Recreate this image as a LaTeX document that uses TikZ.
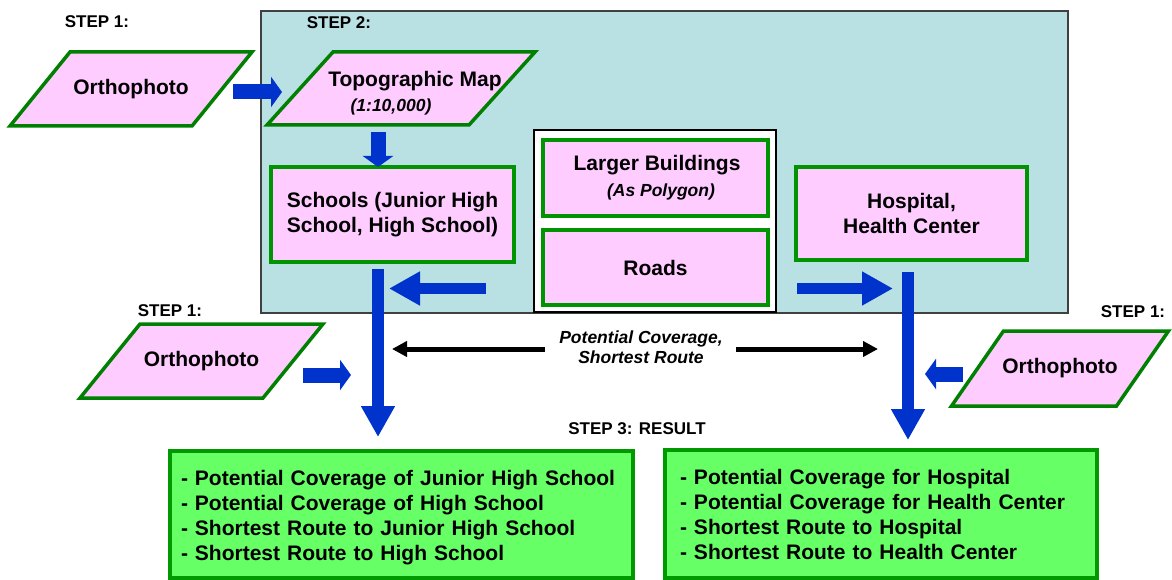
\documentclass[tikz,border=0pt]{standalone}
\usepackage{fontspec}
\setmainfont{Liberation Sans}
\usetikzlibrary{arrows.meta}

\definecolor{panel}{HTML}{B9E0E3}
\definecolor{pinkfill}{HTML}{FFCCFF}
\definecolor{paraline}{HTML}{008000}
\definecolor{rectline}{HTML}{009400}
\definecolor{resfill}{HTML}{66FF66}
\definecolor{resline}{HTML}{009900}
\definecolor{flowblue}{HTML}{0033CC}

\pgfdeclarelayer{back}
\pgfdeclarelayer{mid}
\pgfsetlayers{back,mid,main}

% parallelogram around a named node: #1 node, #2 horizontal slant of the sides
\newcommand{\slantframe}[2]{%
  \begin{pgfonlayer}{mid}
    \draw[parashape] ([xshift=#2/2]#1.north west) -- ([xshift=#2/2]#1.north east)
      -- ([xshift=-#2/2]#1.south east) -- ([xshift=-#2/2]#1.south west) -- cycle;
  \end{pgfonlayer}}

\begin{document}
\begin{tikzpicture}[x=1pt,y=-1pt,
  every node/.style={inner sep=0pt, outer sep=0pt,
    font=\fontsize{21}{25}\selectfont\bfseries},
  steplabel/.style={font=\fontsize{17}{20}\selectfont\bfseries},
  note/.style={font=\fontsize{17.5}{20}\selectfont\bfseries\itshape, align=center},
  layerbox/.style={draw=rectline, fill=pinkfill, line width=3.5pt, align=center},
  paratext/.style={align=center},
  parashape/.style={draw=paraline, fill=pinkfill, line width=3.5pt, line join=miter},
  resultbox/.style={draw=resline, fill=resfill, line width=3.5pt, align=left,
    anchor=north west},
  bigarrow/.style={draw=flowblue, line width=11.5pt,
    -{Triangle[length=31pt,width=32pt]}},
  smallarrow/.style={draw=flowblue, line width=15pt,
    -{Triangle[length=11pt,width=30pt]}},
  blackarrow/.style={draw=black, line width=5pt,
    -{Triangle[length=15pt,width=15pt]}}
]
\useasboundingbox (0,0) rectangle (1172,580);

% step 2 panel and the white frame for buildings and roads
\begin{pgfonlayer}{back}
\node[draw=black!75, fill=panel, line width=1.5pt, anchor=north west,
  minimum width=807pt, minimum height=302pt] (panel) at (261,11) {};
\node[draw=black, fill=white, line width=1.2pt, anchor=north west,
  minimum width=242pt, minimum height=182pt] (frame) at (534,130) {};
\end{pgfonlayer}

% step labels
\node[steplabel] (step1a) at (97,22) {STEP 1:};
\node[steplabel] (step2) at (339,23) {STEP 2:};
\node[steplabel] (step1b) at (170,311) {STEP 1:};
\node[steplabel] (step1c) at (1133,312) {STEP 1:};
\node[steplabel] (step3) at (637,429) {STEP 3: RESULT};

% input layers (parallelograms)
\node[paratext, minimum width=182pt, minimum height=74pt] (ortho1) at (131,89) {Orthophoto};
\slantframe{ortho1}{60pt}
\node[minimum width=202pt, minimum height=73pt] (topo) at (401,88.5) {};
\slantframe{topo}{66pt}
\node (topotitle) at (415,81) {Topographic Map};
\node[note] (toposcale) at (391,107) {(1:10,000)};
\node[paratext, minimum width=183pt, minimum height=74pt] (ortho2) at (201.5,361) {Orthophoto};
\slantframe{ortho2}{60pt}
\node[paratext, minimum width=165pt, minimum height=75pt] (ortho3) at (1060,368.5) {Orthophoto};
\slantframe{ortho3}{52pt}

% feature layers
\node[layerbox, minimum width=243pt, minimum height=95pt] (schools) at (392.5,214.5)
  {Schools (Junior High\\School, High School)};
\node[layerbox, minimum width=225pt, minimum height=76pt] (buildings) at (655.5,178) {};
\node (buildtitle) at (657,165) {Larger Buildings};
\node[note] (buildnote) at (661,192) {(As Polygon)};
\node[layerbox, minimum width=225pt, minimum height=75pt] (roads) at (655.5,267.5) {Roads};
\node[layerbox, minimum width=231pt, minimum height=93pt] (hospital) at (911.5,213.5)
  {Hospital,\\Health Center};

% analysis note
\node[note] (analysis) at (641,347) {Potential Coverage,\\Shortest Route};

% results
\node[resultbox, minimum width=463pt, minimum height=127pt, inner xsep=11pt,
  text width=441pt] (resschool) at (170,451)
  {\rule{0pt}{21pt}- Potential Coverage of Junior High School\\
   - Potential Coverage of High School\\
   - Shortest Route to Junior High School\\
   - Shortest Route to High School};
\node[resultbox, minimum width=432pt, minimum height=128pt, inner xsep=15pt,
  text width=402pt] (reshealth) at (665,450)
  {\rule{0pt}{16pt}- Potential Coverage for Hospital\\
   - Potential Coverage for Health Center\\
   - Shortest Route to Hospital\\
   - Shortest Route to Health Center};

% arrow end points
\coordinate (o1out) at (233,92);   \coordinate (topoin) at (282,92);
\coordinate (topoout) at (378,132); \coordinate (schoolsin) at (378,167);
\coordinate (roadsl) at (486,288.5); \coordinate (schoolsr) at (389,288.5);
\coordinate (roadsr) at (797,288.5); \coordinate (hospl) at (893,288.5);
\coordinate (schoolsout) at (378,269); \coordinate (resschoolin) at (378,437);
\coordinate (hospout) at (908,272); \coordinate (reshealthin) at (908,440);
\coordinate (o2out) at (303,375); \coordinate (leftflow) at (351,375);
\coordinate (o3out) at (963,374); \coordinate (rightflow) at (925,374);
\coordinate (notel) at (545,349); \coordinate (notelend) at (392,349);
\coordinate (noter) at (736,349); \coordinate (noterend) at (878,349);

% blue flow arrows
\draw[smallarrow] (o1out) -- (topoin);
\draw[smallarrow] (topoout) -- (schoolsin);
\draw[bigarrow] (roadsl) -- (schoolsr);
\draw[bigarrow] (roadsr) -- (hospl);
\draw[bigarrow] (schoolsout) -- (resschoolin);
\draw[bigarrow] (hospout) -- (reshealthin);
\draw[smallarrow] (o2out) -- (leftflow);
\draw[smallarrow] (o3out) -- (rightflow);

% black arrows beside the analysis note
\draw[blackarrow] (notel) -- (notelend);
\draw[blackarrow] (noter) -- (noterend);
\end{tikzpicture}
\end{document}
